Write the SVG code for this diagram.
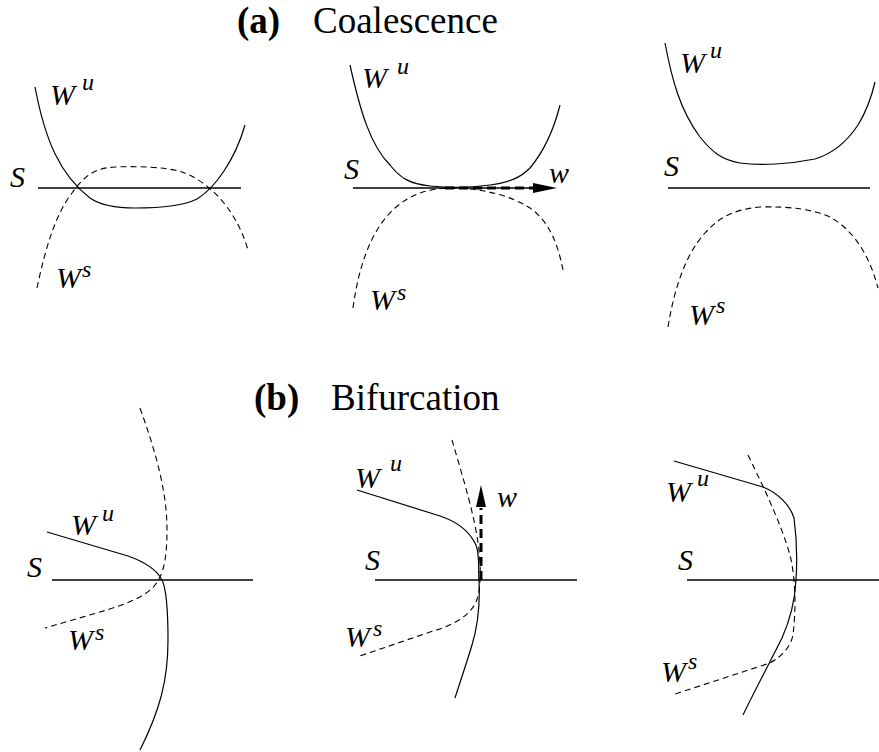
<svg xmlns="http://www.w3.org/2000/svg" width="879" height="752" viewBox="0 0 879 752">
<defs>
<style>
.bg{fill:#fff}
.s{fill:none;stroke:#000;stroke-width:1.6}
.u{fill:none;stroke:#000;stroke-width:1.2}
.st{fill:none;stroke:#000;stroke-width:1.1;stroke-dasharray:6,4}
.w{fill:none;stroke:#000;stroke-width:3;stroke-dasharray:9,5}
.lab{font-family:"Liberation Serif","Times New Roman",serif;font-style:italic;font-size:30px;fill:#000}
.sup{font-family:"Liberation Serif","Times New Roman",serif;font-style:italic;font-size:24px;fill:#000}
.ttl{font-family:"Liberation Serif","Times New Roman",serif;font-size:37px;fill:#000}
.ttlb{font-family:"Liberation Serif","Times New Roman",serif;font-size:37px;font-weight:bold;fill:#000}
</style>
</defs>
<rect class="bg" x="0" y="0" width="879" height="752"/>

<g id="title-a">
<text class="ttlb" x="237" y="33">(a)</text>
<text class="ttl" x="313" y="33">Coalescence</text>
</g>
<g id="title-b">
<text class="ttlb" x="254" y="410">(b)</text>
<text class="ttl" x="331" y="410">Bifurcation</text>
</g>

<g id="panel-a1">
<line class="s" x1="38" y1="188" x2="241" y2="188"/>
<path class="u" d="M35,87 C45,140 60,175 90,198 C100,205 115,208 135,208 C165,208 185,205 197,199 C215,188 235,160 245,125"/>
<path class="st" d="M37,288 C45,250 55,215 72,193 C85,175 95,168 115,167 C140,166 165,167 182,172 C205,180 235,205 248,250"/>
<text class="lab" x="10" y="187">S</text>
<text class="lab" x="50" y="105">W</text>
<text class="sup" x="82" y="90">u</text>
<text class="lab" x="56" y="288">W</text>
<text class="sup" x="82" y="277">s</text>
</g>

<g id="panel-a2">
<line class="s" x1="353" y1="188" x2="540" y2="188"/>
<path class="u" d="M350,65 C360,110 370,145 390,165 C400,178 410,184 430,186 C450,188 470,188 490,185 C510,182 520,178 530,168 C545,150 555,125 560,105"/>
<path class="st" d="M353,308 C358,270 370,230 395,208 C410,195 425,189 450,188 C480,188 510,195 530,208 C550,222 558,245 563,270"/>
<text class="lab" x="344" y="179">S</text>
<text class="lab" x="362" y="88">W</text>
<text class="sup" x="397" y="74">u</text>
<text class="lab" x="370" y="310">W</text>
<text class="sup" x="397" y="300">s</text>
<text class="lab" x="549" y="183">w</text>
</g>

<g id="panel-a3">
<line class="s" x1="668" y1="188" x2="870" y2="188"/>
<path class="u" d="M665,43 C672,80 680,110 700,137 C712,152 722,160 740,163 C760,166 790,164 815,159 C835,153 848,140 858,125 C866,112 872,95 875,82"/>
<path class="st" d="M668,327 C674,290 685,255 705,233 C718,219 730,210 760,207 C790,206 815,210 830,217 C850,228 868,250 878,288"/>
<text class="lab" x="664" y="176">S</text>
<text class="lab" x="680" y="73">W</text>
<text class="sup" x="710" y="58">u</text>
<text class="lab" x="689" y="325">W</text>
<text class="sup" x="716" y="313">s</text>
</g>

<g id="panel-b1">
<line class="s" x1="52" y1="580" x2="253" y2="580"/>
<path class="u" d="M47,532 L128,556 C145,562 157,570 162,580 C167,590 168,610 168,640 C168,680 160,710 140,750"/>
<path class="st" d="M140,408 C155,450 167,490 167,530 C167,560 163,575 155,585 C145,598 120,606 100,612 L45,628"/>
<text class="lab" x="27" y="577">S</text>
<text class="lab" x="71" y="535">W</text>
<text class="sup" x="102" y="521">u</text>
<text class="lab" x="68" y="650">W</text>
<text class="sup" x="95" y="640">s</text>
</g>

<g id="panel-b2">
<line class="s" x1="375" y1="580" x2="577" y2="580"/>
<path class="u" d="M357,490 L440,516 C458,522 470,532 476,545 C480,555 478,570 479,580 C480,600 478,625 472,645 C466,665 460,682 455,698"/>
<path class="st" d="M452,440 C462,475 475,515 479,550 C481,570 481,590 476,602 C470,615 455,625 430,632 L357,657"/>
<text class="lab" x="365" y="570">S</text>
<text class="lab" x="355" y="488">W</text>
<text class="sup" x="390" y="471">u</text>
<text class="lab" x="345" y="647">W</text>
<text class="sup" x="373" y="636">s</text>
<text class="lab" x="497" y="507">w</text>
</g>

<g id="panel-b3">
<line class="s" x1="687" y1="580" x2="879" y2="580"/>
<path class="u" d="M674,461 L763,487 C778,493 790,505 794,518 C797,540 797,565 796,580 C795,600 790,620 782,638 C770,662 755,690 743,715"/>
<path class="st" d="M748,455 C760,480 780,520 790,555 C796,580 796,610 793,635 C790,648 782,656 770,663 L672,695"/>
<text class="lab" x="678" y="570">S</text>
<text class="lab" x="666" y="502">W</text>
<text class="sup" x="697" y="486">u</text>
<text class="lab" x="661" y="682">W</text>
<text class="sup" x="688" y="669">s</text>
</g>

<g id="connectors">
<line class="w" x1="445" y1="188" x2="534" y2="188"/>
<polygon points="533,183 557,188 533,193" fill="#000"/>
<line class="w" x1="481" y1="580" x2="481" y2="508"/>
<polygon points="476,507 481,485 486,507" fill="#000"/>
</g>
</svg>
